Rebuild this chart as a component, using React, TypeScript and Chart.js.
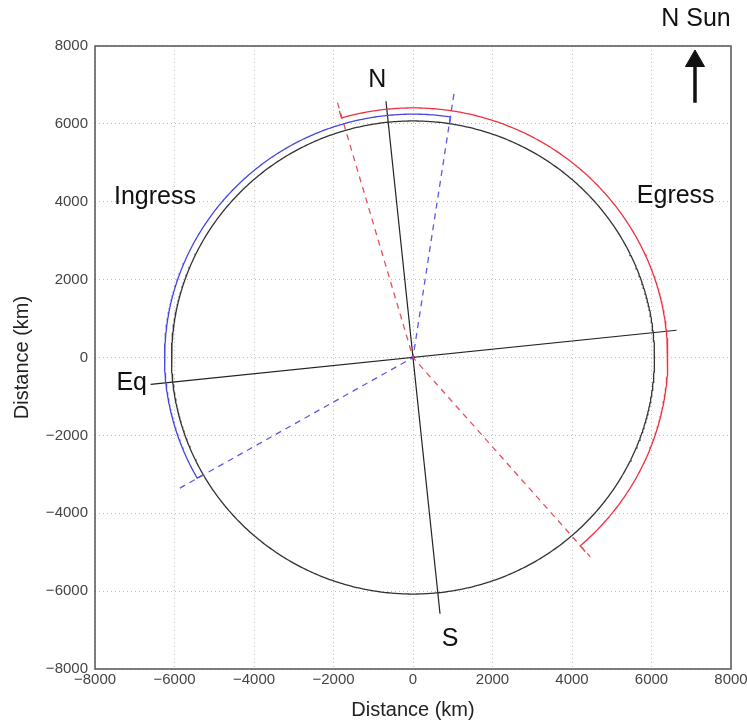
import React, { useEffect, useRef } from 'react';
import { Chart, registerables } from 'chart.js';

Chart.register(...registerables);

// ---- data (km) ----
const X_TICKS = [-8000, -6000, -4000, -2000, 0, 2000, 4000, 6000, 8000];
const Y_TICKS = [-8000, -6000, -4000, -2000, 0, 2000, 4000, 6000, 8000];

const DISK_RADIUS = 6075; // black solar disk outline
// [radius, start angle deg, end angle deg, end-tick radius]
const INGRESS_ARC = [6250, 81.3, 209.7, 6075];
const EGRESS_ARC = [6410, 106.3, -49.0, 6600];

const NS_AXIS_X = [-680, 680];
const NS_AXIS_Y = [6580, -6580];
const EQ_AXIS_X = [-6600, 6630];
const EQ_AXIS_Y = [-690, 700];

const INGRESS_RAY_X = [1030, 0, -5920];
const INGRESS_RAY_Y = [6770, 0, -3385];
const EGRESS_RAY_X = [-1900, 0, 4460];
const EGRESS_RAY_Y = [6545, 0, -5120];

const ARROW_X = [7094, 7094];
const ARROW_Y = [6543, 7614];

const LABEL_TEXTS = ['N', 'S', 'Eq', 'Ingress', 'Egress', 'N Sun'];
const LABEL_X = [-898, 936, -7077, -6491, 6609, 7119];
const LABEL_Y = [7126, -7237, -663, 4129, 4147, 8685];

const FONT = '"Liberation Sans", Arial, Helvetica, sans-serif';

function zipXY(xs: number[], ys: number[]) {
  return xs.map((x, i) => ({ x, y: ys[i] }));
}

function arcPoints(radius: number, startDeg: number, endDeg: number, tickRadius?: number) {
  const pts: { x: number; y: number }[] = [];
  const toRad = Math.PI / 180;
  const n = Math.max(2, Math.ceil(Math.abs(endDeg - startDeg) * 2));
  if (tickRadius !== undefined) {
    pts.push({ x: tickRadius * Math.cos(startDeg * toRad), y: tickRadius * Math.sin(startDeg * toRad) });
  }
  for (let i = 0; i <= n; i++) {
    const a = (startDeg + ((endDeg - startDeg) * i) / n) * toRad;
    pts.push({ x: radius * Math.cos(a), y: radius * Math.sin(a) });
  }
  if (tickRadius !== undefined) {
    pts.push({ x: tickRadius * Math.cos(endDeg * toRad), y: tickRadius * Math.sin(endDeg * toRad) });
  }
  return pts;
}

const fmt = (v: number) => (v < 0 ? '\u2212' + Math.abs(v) : String(v));

const framePlugin = {
  id: 'frame',
  afterDatasetsDraw(chart: any) {
    const { ctx, chartArea } = chart;
    ctx.save();
    ctx.strokeStyle = '#555';
    ctx.lineWidth = 1.5;
    ctx.strokeRect(chartArea.left, chartArea.top, chartArea.right - chartArea.left, chartArea.bottom - chartArea.top);
    ctx.restore();
  },
};

const labelPlugin = {
  id: 'labels',
  afterDraw(chart: any) {
    const { ctx } = chart;
    const xs = chart.scales.x;
    const ys = chart.scales.y;
    ctx.save();
    ctx.fillStyle = '#111';
    ctx.font = `25px ${FONT}`;
    ctx.textAlign = 'center';
    ctx.textBaseline = 'middle';
    LABEL_TEXTS.forEach((t, i) => {
      ctx.fillText(t, xs.getPixelForValue(LABEL_X[i]), ys.getPixelForValue(LABEL_Y[i]));
    });
    ctx.restore();
  },
};

export default function App() {
  const ref = useRef<HTMLCanvasElement>(null);

  useEffect(() => {
    document.body.style.margin = '0';
    const canvas = ref.current;
    if (!canvas) return;

    const line = (data: any[], color: string, width: number, dash: number[] = []) => ({
      data,
      showLine: true,
      borderColor: color,
      backgroundColor: color,
      borderWidth: width,
      borderDash: dash,
      pointRadius: 0,
      fill: false,
      tension: 0,
    });

    const chart = new Chart(canvas, {
      type: 'scatter',
      data: {
        datasets: [
          line(INGRESS_RAY_X.map((x, i) => ({ x, y: INGRESS_RAY_Y[i] })), '#5a5ae0', 1.3, [6, 5]),
          line(EGRESS_RAY_X.map((x, i) => ({ x, y: EGRESS_RAY_Y[i] })), '#e8505c', 1.3, [6, 5]),
          line(arcPoints(DISK_RADIUS, 0, 360), '#333', 1.3),
          line(arcPoints(INGRESS_ARC[0], INGRESS_ARC[1], INGRESS_ARC[2], INGRESS_ARC[3]), '#4646e0', 1.3),
          line(arcPoints(EGRESS_ARC[0], EGRESS_ARC[1], EGRESS_ARC[2], EGRESS_ARC[3]), '#f0303e', 1.3),
          line(zipXY(NS_AXIS_X, NS_AXIS_Y), '#222', 1.2),
          line(zipXY(EQ_AXIS_X, EQ_AXIS_Y), '#222', 1.2),
          {
            data: [{ x: 0, y: 0 }],
            showLine: false,
            pointRadius: 2,
            pointBackgroundColor: '#d03040',
            pointBorderWidth: 0,
          } as any,
          line(zipXY(ARROW_X, ARROW_Y), '#111', 3.5),
          {
            data: [{ x: ARROW_X[1], y: ARROW_Y[1] }],
            showLine: false,
            pointStyle: 'triangle',
            pointRadius: 11,
            pointBackgroundColor: '#111',
            pointBorderColor: '#111',
            pointBorderWidth: 1,
          } as any,
        ],
      },
      options: {
        animation: false,
        responsive: false,
        maintainAspectRatio: false,
        events: [],
        layout: { padding: { top: 46, right: 16, left: 0, bottom: 0 } },
        plugins: {
          legend: { display: false },
          tooltip: { enabled: false },
        },
        scales: {
          x: {
            type: 'linear',
            position: 'bottom',
            min: -8000,
            max: 8000,
            afterBuildTicks: (s: any) => {
              s.ticks = X_TICKS.map((v) => ({ value: v }));
            },
            afterFit: (s: any) => {
              s.height = 56;
              s.paddingLeft = 0;
              s.paddingRight = 0;
            },
            ticks: {
              color: '#444',
              font: { size: 15, family: FONT },
              padding: 2,
              maxRotation: 0,
              autoSkip: false,
              callback: (v: any) => fmt(Number(v)),
            },
            grid: { color: '#bbbbbb', lineWidth: 1, drawTicks: false },
            border: { display: false, dash: [1, 3] },
            title: {
              display: true,
              text: 'Distance (km)',
              color: '#222',
              font: { size: 20, family: FONT },
              padding: { top: 0, bottom: 3 },
            },
          },
          y: {
            type: 'linear',
            position: 'left',
            min: -8000,
            max: 8000,
            afterBuildTicks: (s: any) => {
              s.ticks = Y_TICKS.map((v) => ({ value: v }));
            },
            afterFit: (s: any) => {
              s.width = 95;
              s.paddingTop = 0;
              s.paddingBottom = 0;
            },
            ticks: {
              color: '#444',
              font: { size: 15, family: FONT },
              padding: 7,
              autoSkip: false,
              callback: (v: any) => fmt(Number(v)),
            },
            grid: { color: '#bbbbbb', lineWidth: 1, drawTicks: false },
            border: { display: false, dash: [1, 3] },
            title: {
              display: true,
              text: 'Distance (km)',
              color: '#222',
              font: { size: 20, family: FONT },
              padding: { top: 10, bottom: 0 },
            },
          },
        },
      },
      plugins: [framePlugin, labelPlugin],
    });

    return () => chart.destroy();
  }, []);

  return <canvas ref={ref} width={747} height={725} style={{ display: 'block' }} />;
}
